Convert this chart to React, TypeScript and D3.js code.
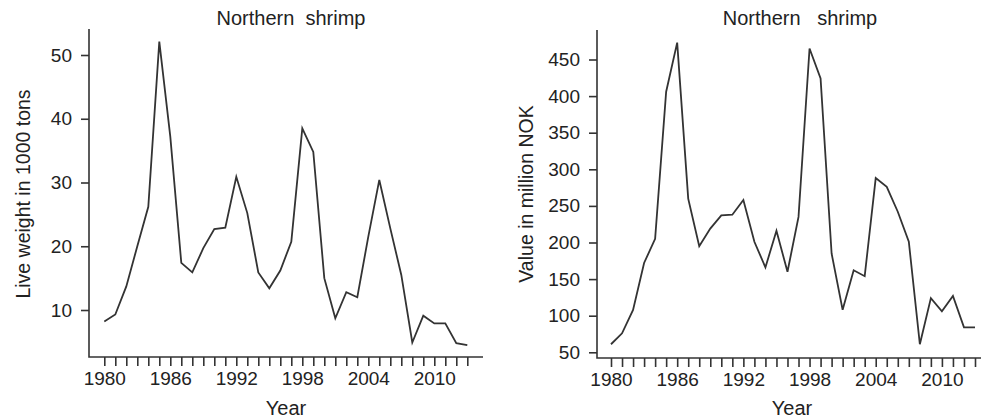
import * as d3 from "d3";
import React, { useEffect, useRef } from "react";

const years = d3.range(1980, 2014);
const labelYears = [1980, 1986, 1992, 1998, 2004, 2010];

const liveWeight = [
  8.2, 9.3, 13.7, 20, 26.2, 52.1, 37.2, 17.4, 15.9, 19.7, 22.7, 22.9, 30.9,
  25.2, 15.9, 13.4, 16.2, 20.7, 38.5, 34.8, 15.0, 8.7, 12.8, 12.0, 21.5, 30.4,
  22.8, 15.5, 4.9, 9.1, 7.9, 7.9, 4.8, 4.5,
];
const weightTicks = [10, 20, 30, 40, 50];

const valueNOK = [
  61, 76, 108, 172, 205, 406, 473, 260, 195, 219, 237, 238, 258, 201, 166, 216,
  160, 235, 465, 424, 185, 108, 162, 154, 288, 276, 242, 201, 61, 124, 106, 127,
  84, 84,
];
const valueTicks = [50, 100, 150, 200, 250, 300, 350, 400, 450];

const ink = "#333";
const font = "'Liberation Sans', Arial, sans-serif";

function Panel(props) {
  const ref = useRef();

  useEffect(() => {
    const g = d3.select(ref.current);
    g.selectAll("*").remove();
    const p = props;

    const x = d3.scaleLinear().domain([1980, 2013]).range(p.xRange);
    const y = d3.scaleLinear().domain(p.yDomain).range(p.yRange);

    // axis lines, R style "L" box
    g.append("path")
      .attr("d", `M${p.axisX},${p.axisTop}V${p.axisY}H${p.axisRight}`)
      .attr("fill", "none")
      .attr("stroke", ink)
      .attr("stroke-width", 1.6);

    const xa = g.append("g")
      .attr("transform", `translate(0,${p.axisY})`)
      .call(
        d3.axisBottom(x)
          .tickValues(years)
          .tickSize(9)
          .tickSizeOuter(0)
          .tickPadding(6)
          .tickFormat((d) => (labelYears.includes(d) ? String(d) : ""))
      );
    xa.select(".domain").remove();

    const ya = g.append("g")
      .attr("transform", `translate(${p.axisX},0)`)
      .call(d3.axisLeft(y).tickValues(p.ticks).tickSize(8).tickSizeOuter(0).tickPadding(9));
    ya.select(".domain").remove();

    g.selectAll(".tick line").attr("stroke", ink).attr("stroke-width", 1.6);
    g.selectAll(".tick text")
      .attr("fill", "#222")
      .style("font-family", font)
      .style("font-size", "19px");

    const line = d3.line()
      .x((d, i) => x(years[i]))
      .y((d) => y(d));

    g.append("path")
      .datum(p.values)
      .attr("d", line)
      .attr("fill", "none")
      .attr("stroke", ink)
      .attr("stroke-width", 1.8)
      .attr("stroke-linejoin", "miter");

    g.append("text")
      .attr("x", p.titleX)
      .attr("y", 25)
      .attr("text-anchor", "middle")
      .attr("xml:space", "preserve")
      .style("white-space", "pre")
      .style("font-family", font)
      .style("font-size", "20px")
      .attr("fill", "#222")
      .text(p.title);

    g.append("text")
      .attr("x", p.yearX)
      .attr("y", 415)
      .attr("text-anchor", "middle")
      .style("font-family", font)
      .style("font-size", "20px")
      .attr("fill", "#222")
      .text("Year");

    g.append("text")
      .attr("transform", `translate(${p.ylabX},194) rotate(-90)`)
      .attr("text-anchor", "middle")
      .style("font-family", font)
      .style("font-size", "19.5px")
      .attr("fill", "#222")
      .text(p.ylab);
  }, [props]);

  return <g ref={ref}></g>;
}

export default function App() {
  return (
    <svg
      width={981}
      height={419}
      style={{ position: "absolute", left: 0, top: 0, background: "#fff" }}
    >
      <Panel
        values={liveWeight}
        ticks={weightTicks}
        xRange={[104.3, 467.3]}
        yDomain={[10, 50]}
        yRange={[310, 55]}
        axisX={89}
        axisY={357}
        axisTop={29}
        axisRight={483}
        title="Northern  shrimp"
        titleX={291}
        yearX={286}
        ylabX={30}
        ylab="Live weight in 1000 tons"
      />
      <Panel
        values={valueNOK}
        ticks={valueTicks}
        xRange={[611, 975]}
        yDomain={[50, 450]}
        yRange={[352.3, 59.5]}
        axisX={597}
        axisY={358}
        axisTop={30}
        axisRight={981}
        title="Northern   shrimp"
        titleX={800}
        yearX={792}
        ylabX={533}
        ylab="Value in million NOK"
      />
    </svg>
  );
}
